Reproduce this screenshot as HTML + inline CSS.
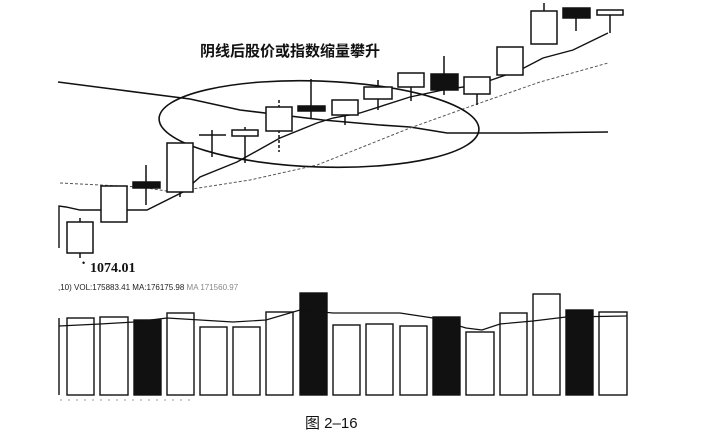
<!DOCTYPE html>
<html><head><meta charset="utf-8"><style>
html,body{margin:0;padding:0;background:#fff;}
svg{display:block;}
</style></head><body>
<svg width="711" height="434" viewBox="0 0 711 434" xmlns="http://www.w3.org/2000/svg">
<rect width="711" height="434" fill="#fff"/>
<text x="200" y="56" font-family="Liberation Sans, Noto Sans CJK SC, sans-serif" font-weight="bold" font-size="15" fill="#111">阴线后股价或指数缩量攀升</text>
<polyline fill="none" stroke="#111" stroke-width="1.6" points="58,82 120,90 190,99 240,110 323,120 380,125 410,127 447,133 480,133 520,133 608,132"/>
<polyline fill="none" stroke="#555" stroke-width="1" stroke-dasharray="3,2" points="60,183 140,187 173,192 250,180 317,165 360,148 410,128 477,104 540,82 608,63"/>
<polyline fill="none" stroke="#111" stroke-width="1.4" points="59,248 59,206 66,207 80,210 100,210 147,210 183,192 200,177 237,162 280,138 317,123 333,118 360,113 410,97 443,90 477,85 520,70 543,58 573,50 608,33"/>
<ellipse cx="319" cy="124" rx="160" ry="43" fill="none" stroke="#111" stroke-width="1.6" transform="rotate(2 319 124)"/>
<g stroke="#111" stroke-width="1.5" fill="#fff">
<line x1="80" y1="218" x2="80" y2="258"/><rect x="67" y="222" width="26" height="31"/>
<line x1="114" y1="186" x2="114" y2="222"/><rect x="101" y="186" width="26" height="36"/>
<line x1="146" y1="165" x2="146" y2="205"/><rect x="133" y="182" width="27" height="6" fill="#111"/>
<line x1="180" y1="143" x2="180" y2="197"/><rect x="167" y="143" width="26" height="49"/>
<line x1="212" y1="130" x2="212" y2="157"/><line x1="199" y1="135" x2="226" y2="135"/>
<line x1="245" y1="127" x2="245" y2="163"/><rect x="232" y="130" width="26" height="6"/>
<line x1="279" y1="100" x2="279" y2="152" stroke-dasharray="3,2"/><rect x="266" y="107" width="26" height="24"/>
<line x1="311" y1="79" x2="311" y2="118"/><rect x="298" y="106" width="27" height="5" fill="#111"/>
<line x1="345" y1="100" x2="345" y2="125"/><rect x="332" y="100" width="26" height="15"/>
<line x1="378" y1="80" x2="378" y2="110"/><rect x="364" y="87" width="28" height="12"/>
<line x1="411" y1="73" x2="411" y2="101"/><rect x="398" y="73" width="26" height="14"/>
<line x1="444" y1="56" x2="444" y2="95"/><rect x="431" y="74" width="27" height="16" fill="#111"/>
<line x1="477" y1="77" x2="477" y2="105"/><rect x="464" y="77" width="26" height="17"/>
<rect x="497" y="47" width="26" height="28"/>
<line x1="544" y1="3" x2="544" y2="11"/><rect x="531" y="11" width="26" height="33"/>
<line x1="576" y1="8" x2="576" y2="31"/><rect x="563" y="8" width="27" height="10" fill="#111"/>
<line x1="610" y1="10" x2="610" y2="33"/><rect x="597" y="10" width="26" height="5"/>
</g>
<text x="82" y="266" font-family="Liberation Sans, sans-serif" font-size="9" fill="#111">•</text>
<text x="90" y="272" font-family="Liberation Serif, serif" font-weight="bold" font-size="14" fill="#111">1074.01</text>
<text x="58" y="290" font-family="Liberation Sans, sans-serif" font-size="8" fill="#222">,10)  VOL:175883.41   MA:176175.98   <tspan fill="#888">MA 171560.97</tspan></text>
<g stroke="#111" stroke-width="1.4" fill="#fff">
<line x1="59" y1="318" x2="59" y2="395"/>
<rect x="67" y="318" width="27" height="77"/>
<rect x="100" y="317" width="28" height="78"/>
<rect x="134" y="320" width="27" height="75" fill="#111"/>
<rect x="167" y="313" width="27" height="82"/>
<rect x="200" y="327" width="27" height="68"/>
<rect x="233" y="327" width="27" height="68"/>
<rect x="266" y="312" width="27" height="83"/>
<rect x="300" y="293" width="27" height="102" fill="#111"/>
<rect x="333" y="325" width="27" height="70"/>
<rect x="366" y="324" width="27" height="71"/>
<rect x="400" y="326" width="27" height="69"/>
<rect x="433" y="317" width="27" height="78" fill="#111"/>
<rect x="466" y="332" width="28" height="63"/>
<rect x="500" y="313" width="27" height="82"/>
<rect x="533" y="294" width="27" height="101"/>
<rect x="566" y="310" width="27" height="85" fill="#111"/>
<rect x="599" y="312" width="28" height="83"/>
</g>
<polyline fill="none" stroke="#111" stroke-width="1.2" points="59,326 100,324 134,322 167,318 200,320 233,322 266,320 300,310 333,313 400,313 433,318 466,328 482,330 500,324 533,321 566,317 627,316"/>
<line x1="60" y1="400" x2="190" y2="400" stroke="#999" stroke-width="1" stroke-dasharray="2,6"/>
<text x="305" y="428" font-family="Liberation Sans, Noto Sans CJK SC, sans-serif" font-size="15" fill="#111">图 2–16</text>
</svg>
</body></html>
